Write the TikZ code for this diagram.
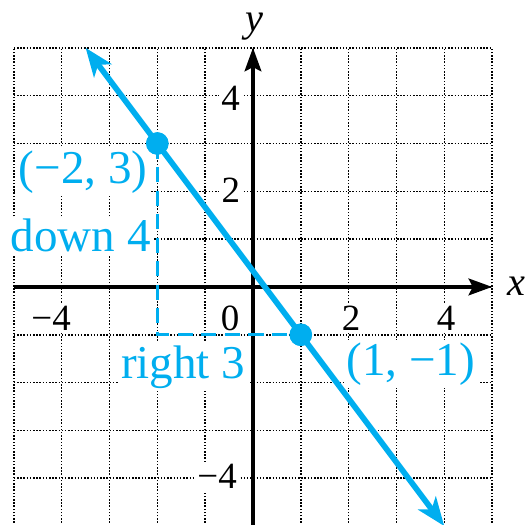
\documentclass[tikz,border=0pt]{standalone}
\usepackage{fontspec}
\setmainfont{Liberation Serif}
\usetikzlibrary{arrows.meta}
\definecolor{cy}{RGB}{0,174,239}
\begin{document}
\begin{tikzpicture}[x=1cm,y=1cm,
  gridline/.style={black,line width=0.9pt,dash pattern=on 0.9pt off 1.0pt},
  axisline/.style={black,line width=1.9pt,-{Stealth[length=14pt,width=10pt,inset=2.5pt]}},
  graphline/.style={cy,line width=3.4pt,{Stealth[length=17pt,width=13pt,inset=4.5pt]}-{Stealth[length=17pt,width=13pt,inset=4.5pt]}},
  guide/.style={cy,line width=1.9pt,dash pattern=on 9pt off 5pt},
  tick/.style={fill=white,inner sep=1.5pt,font=\fontsize{22}{26}\selectfont},
  bluelabel/.style={fill=white,inner sep=1.5pt,text=cy,font=\fontsize{28}{32}\selectfont},
  axlabel/.style={inner sep=0pt,font=\fontsize{24}{26}\selectfont\itshape},
  pt/.style={circle,fill=cy,inner sep=0pt,minimum size=0.47cm}]
\useasboundingbox (-5.29,-4.96) rectangle (5.73,6.0);
% grid
\foreach \i in {-5,...,5} {
  \draw[gridline] (\i,-5) -- (\i,5);
  \draw[gridline] (-5,\i) -- (5,\i);
}
% labels with white backgrounds
\node[tick] (ty4) at (-0.47,3.95) {4};
\node[tick] (ty2) at (-0.46,2.03) {2};
\node[tick] (tym4) at (-0.75,-3.97) {−4};
\node[tick] (txm4) at (-4.22,-0.65) {−4};
\node[tick] (tx0) at (-0.48,-0.65) {0};
\node[tick] (tx2) at (2.05,-0.65) {2};
\node[tick] (tx4) at (4.04,-0.65) {4};
\node[bluelabel,anchor=east] (lA) at (-2.15,2.4) {(−2, 3)};
\node[bluelabel,anchor=east] (lD) at (-2.08,1.07) {down 4};
\node[bluelabel] (lR) at (-1.46,-1.68) {right 3};
\node[bluelabel,anchor=west] (lB) at (1.9,-1.61) {(1, −1)};
% axes
\coordinate (xs) at (-5,0);
\coordinate (xe) at (5,0);
\coordinate (ys) at (0,-5);
\coordinate (ye) at (0,5);
\draw[axisline] (xs) -- (xe);
\draw[axisline] (ys) -- (ye);
\node[axlabel] (xl) at (5.5,0.02) {x};
\node[axlabel] (yl) at (0.03,5.45) {y};
% points and guides
\node[pt] (A) at (-2,3) {};
\node[pt] (B) at (1,-1) {};
\coordinate (C) at (-2,-1);
\draw[guide] (A.center) -- (C) -- (B.center);
\node[pt] at (-2,3) {};
\node[pt] at (1,-1) {};
% line
\coordinate (L1) at (-3.5,5);
\coordinate (L2) at (4,-5);
\draw[graphline] (L1) -- (L2);
\end{tikzpicture}
\end{document}
